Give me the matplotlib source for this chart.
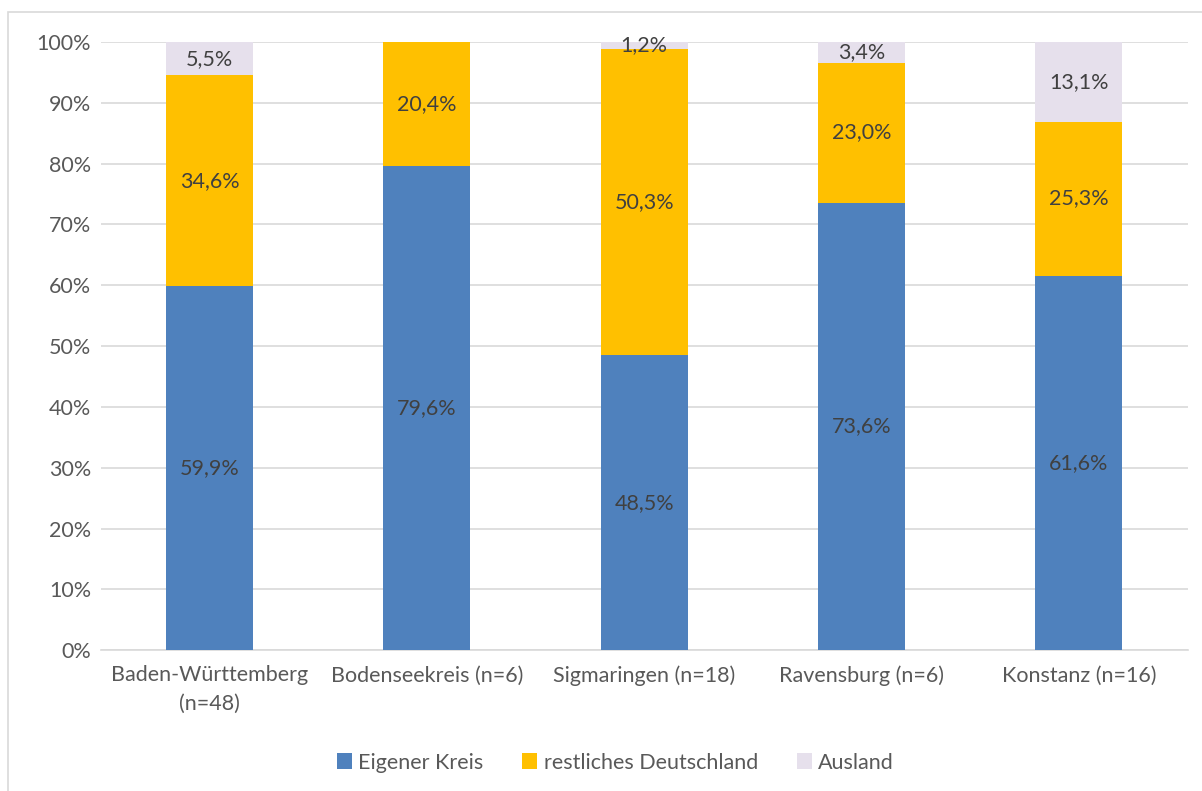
import numpy as np
import matplotlib.pyplot as plt
from matplotlib.patches import Rectangle

kategorien = ["Baden-Württemberg\n(n=48)", "Bodenseekreis (n=6)", "Sigmaringen (n=18)",
              "Ravensburg (n=6)", "Konstanz (n=16)"]
eigener_kreis = [59.9, 79.6, 48.5, 73.6, 61.6]
rest_deutschland = [34.6, 20.4, 50.3, 23.0, 25.3]
ausland = [5.5, 0.0, 1.2, 3.4, 13.1]

serien = [
    ("Eigener Kreis", eigener_kreis, "#4F81BD"),
    ("restliches Deutschland", rest_deutschland, "#FFC000"),
    ("Ausland", ausland, "#E6E0EC"),
]

plt.rcParams['font.family'] = ['Lato', 'DejaVu Sans']
grau = "#595959"
fs = 15.5

fig = plt.figure(figsize=(12.02, 7.91), dpi=100)
ax = fig.add_axes([0.084, 0.178, 0.904, 0.769])

# Rahmen um das Diagramm
fig.patches.append(Rectangle((8 / 1202, -0.01), 1.0, 1 - 12 / 791 + 0.01,
                             transform=fig.transFigure, fill=False,
                             edgecolor="#D9D9D9", linewidth=1.2))

x = np.arange(len(kategorien))
unten = np.zeros(len(kategorien))
for name, werte, farbe in serien:
    werte = np.array(werte)
    ax.bar(x, werte, 0.4, bottom=unten, color=farbe, label=name, zorder=3)
    for xi, u, w in zip(x, unten, werte):
        if w > 0:
            ax.text(xi, u + w / 2, f"{w:.1f}%".replace(".", ","), ha="center",
                    va="center", fontsize=fs, color="#404040", zorder=4)
    unten += werte

ax.set_xlim(-0.5, len(kategorien) - 0.5)
ax.set_ylim(0, 100)
ax.set_yticks(np.arange(0, 101, 10))
ax.set_yticklabels([f"{v}%" for v in range(0, 101, 10)])
ax.set_xticks(x)
ax.set_xticklabels(kategorien, linespacing=1.55)
ax.tick_params(axis="both", length=0, labelsize=fs, labelcolor=grau)
ax.tick_params(axis="x", pad=11)
ax.tick_params(axis="y", pad=7)
ax.grid(axis="y", color="#D9D9D9", linewidth=1.2, zorder=0)
for s in ["top", "right", "left"]:
    ax.spines[s].set_visible(False)
ax.spines["bottom"].set_color("#D9D9D9")
ax.spines["bottom"].set_linewidth(1.2)

leg = fig.legend(loc="center", bbox_to_anchor=(0.512, 0.036), ncol=3, frameon=False,
                 fontsize=fs, handlelength=0.7, handleheight=0.7, handletextpad=0.3,
                 columnspacing=1.8)
for t in leg.get_texts():
    t.set_color(grau)

fig.savefig("out.png", dpi=100)
